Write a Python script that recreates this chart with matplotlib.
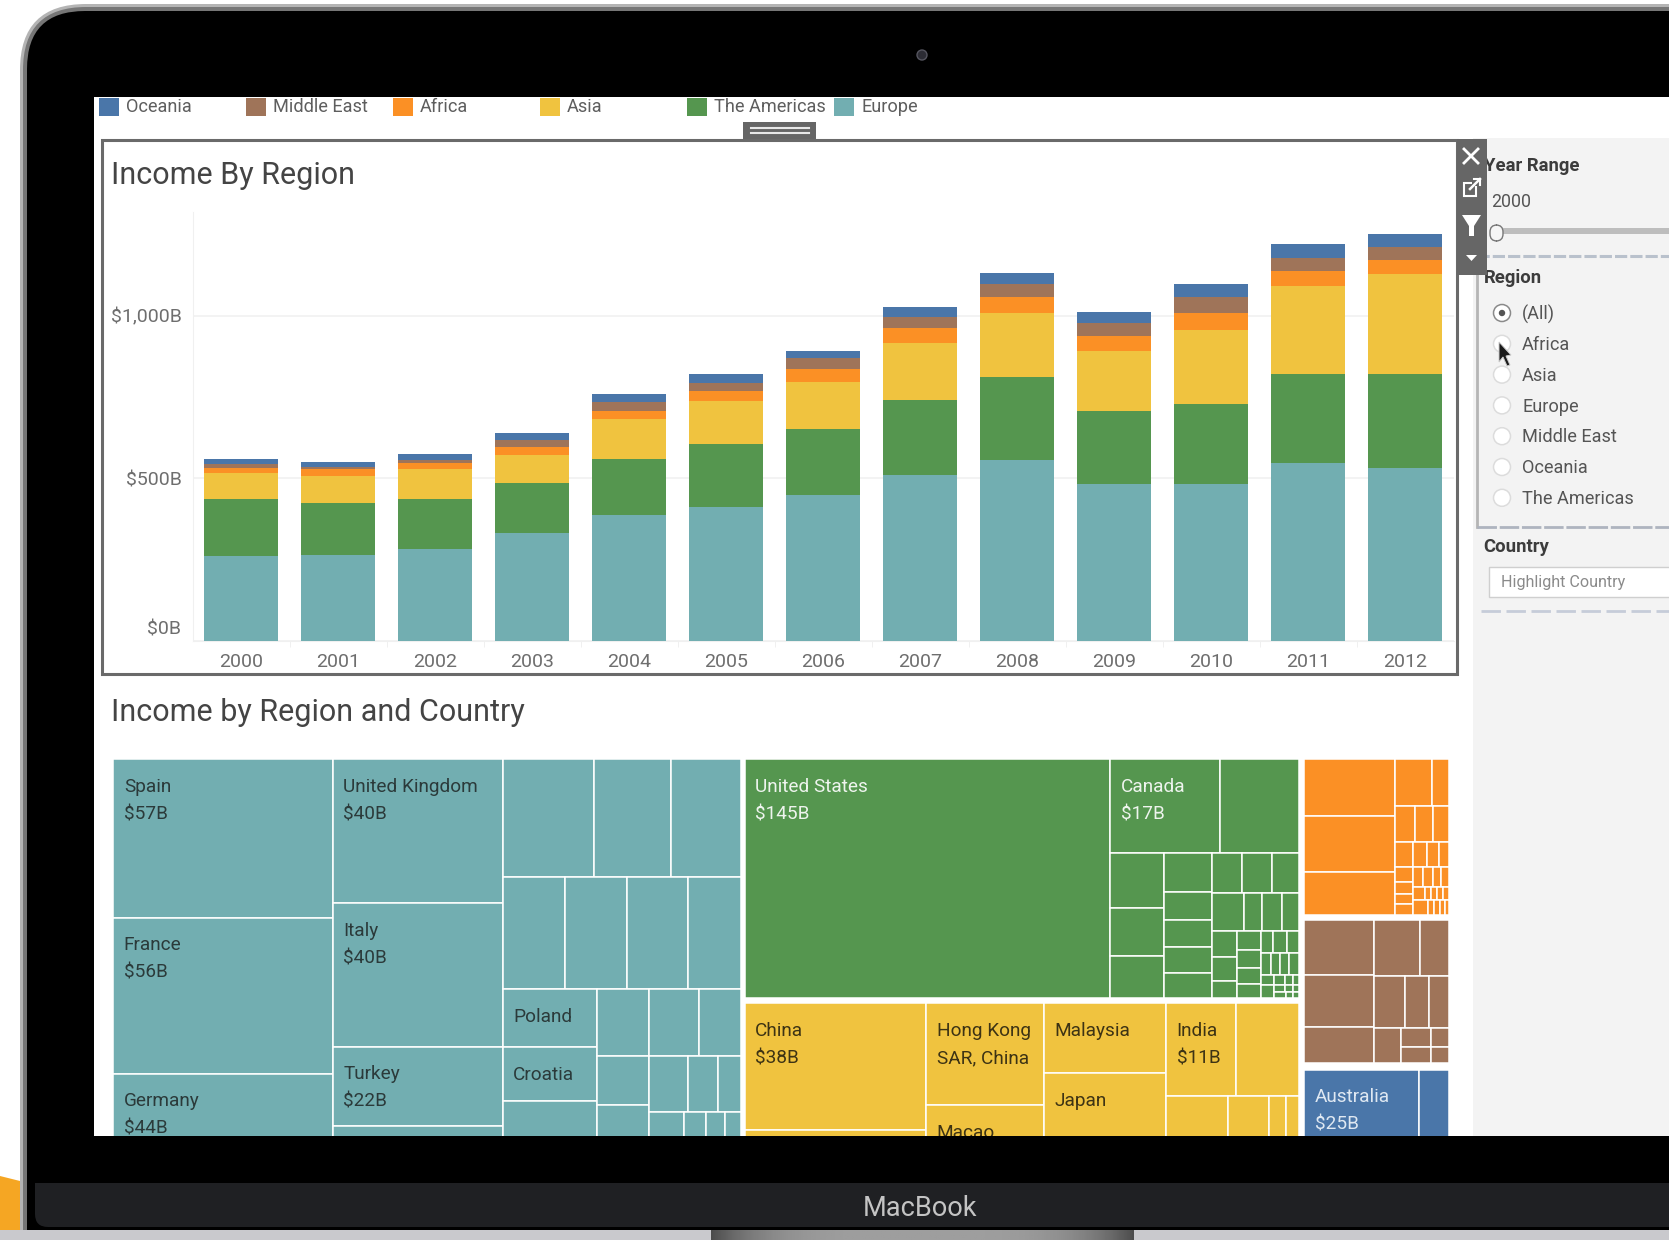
# ── Imports ──────────────────────────────────────────────────────────
import numpy as np
import matplotlib
matplotlib.use('Agg')
import matplotlib.pyplot as plt
import matplotlib.transforms as mtrans
from matplotlib.patches import Rectangle, Circle, Polygon, FancyBboxPatch

plt.rcParams['font.family'] = ['Roboto', 'DejaVu Sans']

W, H = 1669, 1240

# ── 1. Data ──────────────────────────────────────────────────────────
years = [2000, 2001, 2002, 2003, 2004, 2005, 2006, 2007, 2008, 2009, 2010, 2011, 2012]

# income per region, $B
europe_income = [261, 265, 281, 330, 386, 410, 447, 511, 557, 481, 481, 547, 532]
americas_income = [174, 160, 154, 156, 174, 196, 204, 229, 254, 226, 246, 274, 289]
asia_income = [80, 81, 92, 86, 121, 131, 145, 177, 196, 185, 230, 271, 306]
africa_income = [17, 22, 19, 25, 26, 31, 41, 45, 50, 45, 51, 45, 45]
mideast_income = [12, 7, 11, 21, 26, 24, 32, 35, 41, 40, 49, 41, 40]
oceania_income = [16, 16, 18, 22, 27, 29, 22, 29, 34, 34, 39, 43, 40]

legend_names = ['Oceania', 'Middle East', 'Africa', 'Asia', 'The Americas', 'Europe']
region_names = ['(All)', 'Africa', 'Asia', 'Europe', 'Middle East', 'Oceania', 'The Americas']

# treemap values: ['h', ...] cells side by side, ['v', ...] cells stacked,
# a number is an unlabelled country, a tuple is (value, label)
europe_tree = ['h',
    ['v', (57, 'Spain\n$57B'), (56, 'France\n$56B'), (44, 'Germany\n$44B')],
    ['v', (40, 'United Kingdom\n$40B'), (40, 'Italy\n$40B'), (22, 'Turkey\n$22B'), 19.5],
    ['v',
        ['h', 17.6, 14.8, 13.5],
        ['h', 11.4, 11.5, 11.1, 9.9],
        ['h',
            ['v', (9.0, 'Poland'), (8.4, 'Croatia'), 14.7],
            ['v', 5.7, 4.2, 7.7],
            ['v', ['h', 5.5, 4.6], ['h', 3.6, 2.7, 2.2], ['h', 4.8, 2.9, 2.6, 2.3]]]]]

americas_tree = ['h',
    (145, 'United States\n$145B'),
    ['v',
        ['h', (17, 'Canada\n$17B'), 12.2],
        ['h',
            ['v', 4.9, 4.2, 3.75],
            ['v', 3.2, 2.2, 2.2, 2.1, 2.0],
            ['v',
                ['h', 2.0, 2.0, 1.84],
                ['h', 2.0, 1.16, 1.21, 1.1],
                ['h',
                    ['v', 1.06, 0.99, 0.70],
                    ['v', 0.78, 0.73, 0.66, 0.57],
                    ['v',
                        ['h', 0.44, 0.54, 0.43],
                        ['h', 0.35, 0.33, 0.32, 0.38],
                        ['h', ['v', 0.21, 0.27],
                            ['v', ['h', 0.19, 0.12, 0.10], ['h', 0.13, 0.08, 0.07], ['h', 0.13, 0.08, 0.06]]]]]]]]]

asia_tree = ['h',
    ['v', (38, 'China\n$38B'), 19.9],
    ['v', (19.8, 'Hong Kong\nSAR, China'), (17.7, 'Macao')],
    ['v', (14.2, 'Malaysia'), (25, 'Japan')],
    ['v',
        ['h', (10.7, 'India\n$11B'), 9.7],
        ['h', 10.2, 6.8, 2.8, 2.2]]]

africa_tree = ['h',
    ['v', 8.5, 8.2, 6.5],
    ['v',
        ['h', 2.8, 1.3],
        ['h', 1.25, 1.04, 0.96],
        ['h', 0.74, 0.58, 0.48, 0.39],
        ['h',
            ['v', 0.46, 0.37, 0.31, 0.33],
            ['v',
                ['h', 0.32, 0.32, 0.26, 0.25],
                ['h', 0.26, 0.13, 0.13, 0.13, 0.13],
                ['h', 0.36, 0.15, 0.15, 0.12, 0.08]]]]]

mideast_tree = ['h',
    ['v', 6.3, 5.9, 4.2],
    ['v',
        ['h', 4.25, 2.65],
        ['h', 2.66, 2.06, 1.69],
        ['h', 1.6, ['v', 0.95, 0.83], ['v', 0.55, 0.48]]]]

oceania_tree = ['h', (25, 'Australia\n$25B'), 6.4]

# ── 2. Colours and layout (pixels of the full picture) ────────────────
C_EUROPE = '#72aeb1'
C_AMERICAS = '#55964f'
C_ASIA = '#f0c33f'
C_AFRICA = '#fb9025'
C_MIDEAST = '#9f7459'
C_OCEANIA = '#4a76a9'
legend_colors = [C_OCEANIA, C_MIDEAST, C_AFRICA, C_ASIA, C_AMERICAS, C_EUROPE]
GREY = '#6a6a6a'


def px_axes(left, top, right, bottom, z):
    ax = fig.add_axes([left / W, 1 - bottom / H, (right - left) / W, (bottom - top) / H], zorder=z)
    return ax


fig = plt.figure(figsize=(W / 100, H / 100), dpi=100, facecolor='white')

# ── 3. Laptop frame and dashboard chrome ──────────────────────────────
bg = px_axes(0, 0, W, H, 0)
bg.set_xlim(0, W)
bg.set_ylim(H, 0)
bg.axis('off')

bg.add_patch(Polygon([(0, 1176), (20, 1181), (25, 1232), (0, 1232)], fc='#f5a623', ec='none'))
# the bezel runs on past the bottom edge, the silver strip covers its end
bg.add_patch(FancyBboxPatch((20, 4), 2000, 1300, boxstyle='round,pad=0,rounding_size=66', fc='#b4b4b4', ec='none'))
bg.add_patch(FancyBboxPatch((23, 7), 2000, 1300, boxstyle='round,pad=0,rounding_size=63', fc='#767676', ec='none'))
bg.add_patch(FancyBboxPatch((27, 11), 2000, 1300, boxstyle='round,pad=0,rounding_size=58', fc='black', ec='none'))
bg.add_patch(FancyBboxPatch((35, 1183), 2000, 44, boxstyle='round,pad=0,rounding_size=13', fc='#1f2023', ec='none'))
bg.add_patch(Rectangle((35, 1183), 2000, 20, fc='#1f2023', ec='none'))
bg.add_patch(Rectangle((0, 1230), W, 10, fc='#c9c9cd', ec='none', zorder=1.5))
hinge = 0.62 - 0.32 * np.abs(np.linspace(-1, 1, 200))[None, :] ** 4
bg.imshow(hinge, extent=(711, 1133, 1240, 1230), cmap='gray', vmin=0, vmax=1, aspect='auto', zorder=2)
bg.set_xlim(0, W)
bg.set_ylim(H, 0)
bg.text(920, 1209, 'MacBook', color='#c4c4c4', fontsize=19.5, ha='center', va='center')
bg.add_patch(Circle((922, 55), 5, fc='#2c2c34', ec='#55555f', lw=1))

# screen
bg.add_patch(Rectangle((94, 97), W, 1039, fc='white', ec='none'))
bg.add_patch(Rectangle((1473, 138), W, 998, fc='#f3f3f3', ec='none'))

# legend strip
legend_sw_x = [99, 246, 393, 540, 687, 834]
for name, col, sx in zip(legend_names, legend_colors, legend_sw_x):
    bg.add_patch(Rectangle((sx, 98), 20, 18, fc=col, ec='none'))
    bg.text(sx + 27, 107.5, name, color='#5e5e5e', fontsize=13.1, va='center')

# resize handle and chart frame
bg.add_patch(Rectangle((743, 122), 73, 18, fc='#666666', ec='none'))
bg.plot([751, 809], [128, 128], color='#e8e8e8', lw=1.5)
bg.plot([751, 809], [133, 133], color='#e8e8e8', lw=1.5)
bg.add_patch(Rectangle((102, 140), 1355, 534, fc='white', ec=GREY, lw=2.2))

bg.text(111, 176, 'Income By Region', color='#444444', fontsize=22, va='center')
bg.text(111, 712.5, 'Income by Region and Country', color='#444444', fontsize=22, va='center')

# filter pane
bg.text(1484, 166, 'Year Range', color='#3c3c3c', fontsize=13.3, fontweight='bold', va='center')
bg.text(1491, 202, '2000', color='#555555', fontsize=12.8, va='center')
bg.add_patch(Rectangle((1503, 228), W, 6, fc='#bdbdbd', ec='none'))
bg.add_patch(FancyBboxPatch((1490, 225), 13, 16, boxstyle='round,pad=0,rounding_size=7', fc='#f6f6f6', ec='#777777', lw=1))
bg.plot([1477, W], [256, 256], color='#b9c1cc', lw=2.2, ls=(0, (4, 1)))
bg.plot([1477, 1477], [256, 527], color='#b5b5b5', lw=2)
bg.plot([1477, W], [527, 527], color='#aeb4bf', lw=2, ls=(0, (7, 1)))
bg.text(1484, 278, 'Region', color='#3c3c3c', fontsize=13.3, fontweight='bold', va='center')
radio_y = 313 + 30.8 * np.arange(len(region_names))
for i, (name, ry) in enumerate(zip(region_names, radio_y)):
    bg.add_patch(Circle((1502, ry), 8.5, fc='white', ec='#8a8a8a' if i == 0 else '#dcdcdc', lw=1.1))
    if i == 0:
        bg.add_patch(Circle((1502, ry), 3.2, fc='#555555', ec='none'))
    bg.text(1522, ry + 1.2, name, color='#555555', fontsize=13.1, va='center')
bg.text(1483, 547, 'Country', color='#3c3c3c', fontsize=13.3, fontweight='bold', va='center')
bg.add_patch(Rectangle((1489, 567), W, 30, fc='white', ec='#cfcfcf', lw=1))
bg.text(1501, 582, 'Highlight Country', color='#8a8a8a', fontsize=11.6, va='center')
bg.plot([1481, W], [611, 611], color='#c6ccd9', lw=2, ls=(0, (7, 2)))

# ── 4. Stacked bars ───────────────────────────────────────────────────
ax = px_axes(192.5, 212, 1453.5, 640.7, 1)
ax.patch.set_alpha(0)
x = np.arange(len(years))
stack = [(europe_income, C_EUROPE), (americas_income, C_AMERICAS), (asia_income, C_ASIA),
         (africa_income, C_AFRICA), (mideast_income, C_MIDEAST), (oceania_income, C_OCEANIA)]
bottom = np.zeros(len(years))
for vals, col in stack:
    ax.bar(x, vals, width=0.757, bottom=bottom, color=col, zorder=3)
    bottom = bottom + np.array(vals)

ax.set_xlim(-0.5, 12.5)
ax.set_ylim(0, 1319)
for s in ['top', 'right']:
    ax.spines[s].set_visible(False)
for s in ['left', 'bottom']:
    ax.spines[s].set_color('#f0f0f0')
ax.grid(axis='y', color='#f1f1f1', lw=1.2, zorder=0)
ax.set_axisbelow(True)
ax.set_yticks([0, 500, 1000], ['$0B', '$500B', '$1,000B'])
ax.set_xticks(x, [str(y) for y in years])
ax.set_xticks(x[:-1] + 0.5, minor=True)
ax.tick_params(axis='y', length=0, pad=8, labelsize=14, labelcolor='#6e6e6e')
ax.tick_params(axis='x', which='major', length=0, pad=9, labelsize=14, labelcolor='#6e6e6e')
ax.tick_params(axis='x', which='minor', length=4, color='#eeeeee')
# Tableau pushes the $0B label up off the baseline
zero_lab = ax.get_yticklabels()[0]
zero_lab.set_transform(zero_lab.get_transform() + mtrans.ScaledTranslation(0, 0.13, fig.dpi_scale_trans))

# ── 5. Treemap ────────────────────────────────────────────────────────
tm = px_axes(94, 740, 1473, 1136, 1)
tm.set_xlim(94, 1473)
tm.set_ylim(1136, 740)
tm.axis('off')


def total(node):
    if isinstance(node, list):
        return sum(total(c) for c in node[1:])
    if isinstance(node, tuple):
        return node[0]
    return node


def draw_node(node, x0, y0, x1, y1, col, txt_col):
    if isinstance(node, list):
        whole = total(node)
        pos = x0 if node[0] == 'h' else y0
        for child in node[1:]:
            share = total(child) / whole
            if node[0] == 'h':
                step = (x1 - x0) * share
                draw_node(child, pos, y0, pos + step, y1, col, txt_col)
            else:
                step = (y1 - y0) * share
                draw_node(child, x0, pos, x1, pos + step, col, txt_col)
            pos += step
        return
    tm.add_patch(Rectangle((x0, y0), x1 - x0, y1 - y0, fc=col, ec='white', lw=1.1))
    if isinstance(node, tuple):
        for i, line in enumerate(node[1].split('\n')):
            tm.text(x0 + 10.5, y0 + 27.5 + 27.5 * i, line, color=txt_col, fontsize=13.7,
                    va='center', clip_on=True)


TXT_DARK = '#2b3a3a'
TXT_LIGHT = '#eef4ee'
draw_node(europe_tree, 113.3, 759.3, 741.4, 1196, C_EUROPE, TXT_DARK)
draw_node(americas_tree, 744.8, 759.3, 1299, 998.3, C_AMERICAS, TXT_LIGHT)
draw_node(asia_tree, 744.8, 1003.3, 1299, 1196, C_ASIA, '#3d3314')
draw_node(africa_tree, 1304, 759.3, 1448.7, 915.3, C_AFRICA, TXT_DARK)
draw_node(mideast_tree, 1304, 920.3, 1448.7, 1063.3, C_MIDEAST, TXT_DARK)
draw_node(oceania_tree, 1304, 1070, 1448.7, 1196, C_OCEANIA, '#dfe8f2')

# ── 6. Floating toolbar and cursor ────────────────────────────────────
top = px_axes(0, 0, W, H, 3)
top.set_xlim(0, W)
top.set_ylim(H, 0)
top.axis('off')
top.patch.set_alpha(0)
top.add_patch(Rectangle((1457, 139), 30, 136, fc='#666666', ec='none'))
top.plot([1464, 1478], [149, 163], color='white', lw=2)
top.plot([1464, 1478], [163, 149], color='white', lw=2)
top.add_patch(Rectangle((1464, 183), 12, 13, fc='none', ec='white', lw=1.5))
top.add_patch(Rectangle((1472, 178), 9, 8, fc='#666666', ec='none'))
top.plot([1470, 1480], [189, 179], color='white', lw=1.8)
top.plot([1474, 1480, 1480], [179, 179, 185], color='white', lw=1.5)
top.add_patch(Polygon([(1462, 215), (1481, 215), (1474, 226), (1474, 236), (1469, 236), (1469, 226)], fc='white', ec='none'))
top.add_patch(Polygon([(1466, 255), (1477, 255), (1471.5, 261)], fc='white', ec='none'))
top.add_patch(Polygon([(1499, 342), (1499, 362), (1503, 357), (1507, 366), (1510, 365), (1506, 356), (1511, 355)],
                      fc='#1a1a1a', ec='#cccccc', lw=0.7))

fig.savefig('out.png', dpi=100)
